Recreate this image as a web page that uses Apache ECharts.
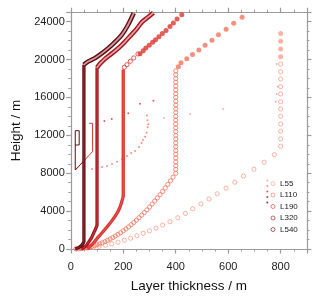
<!DOCTYPE html>
<html><head><meta charset="utf-8">
<script src="https://cdn.jsdelivr.net/npm/echarts@6/dist/echarts.min.js"></script>
<style>html,body{margin:0;padding:0;background:#fff}#c{width:320px;height:299px}</style>
</head><body><div id="c"></div>
<script>
const names = ['L55','L110','L190','L320','L540'];
const colors = ['#f9a08c','#f5735f','#dc3530','#a8141c','#6a0a10'];
const xTicks = [0,200,400,600,800];
const yTicks = [0,4000,8000,12000,16000,20000,24000];

// L55
const l55Circles = [[20,15],[40,45],[62,100],[85,175],[108,275],[132,400],[156,550],[180,720],[204,920],[228,1140],[252,1400],[276,1660],[300,1920],[325,2200],[350,2520],[378,2880],[408,3300],[437,3760],[465,4250],[496,4760],[527,5280],[558,5830],[592,6420],[625,7050],[658,7700],[698,8420],[737,9160],[776,9960],[800,10850],[800,11620],[800,12430],[800,13200],[800,14010],[800,14780],[800,15550],[800,16370],[800,17140],[800,17950],[800,18720],[800,19530]];
const l55Filled = [[800,20300],[800,21120],[800,21930],[800,22740]];
const l55Dots = [[785,19540],[789,17140],[785,16370],[781,15550],[581,14780],[455,14260],[355,13830]];

// L110
const l110Circles = [[20,10],[30,25],[40,53],[50,92],[60,141],[70,200],[80,270],[90,350],[100,440],[110,541],[120,652],[130,774],[140,906],[150,1049],[160,1201],[170,1365],[180,1538],[190,1722],[200,1917],[210,2122],[220,2337],[230,2563],[240,2799],[250,3045],[260,3302],[270,3570],[280,3847],[290,4135],[300,4434],[310,4743],[320,5062],[330,5392],[340,5732],[350,6082],[360,6443],[370,6815],[380,7196],[390,7588],[400,7991],[400,8400],[400,8800],[400,9200],[400,9600],[400,10000],[400,10400],[400,10800],[400,11200],[400,11600],[400,12000],[400,12400],[400,12800],[400,13200],[400,13600],[400,14000],[400,14400],[400,14800],[400,15200],[400,15600],[400,16000],[400,16400],[400,16800],[400,17200],[400,17600],[400,18000],[400,18400],[400,18800]];
const l110Filled = [[410,19230],[420,19660],[442,20080],[464,20540],[488,21000],[512,21510],[538,22040],[563,22630],[592,23200],[621,23830],[653,24470]];
const l110Dots = [[81,8450],[100,8550],[119,8660],[138,8760],[157,8980],[176,9220],[195,9500],[214,9820],[230,10140],[245,10350],[260,10770],[270,11190],[275,11510],[283,11860],[289,12280],[293,12850],[295,13170],[292,13600],[290,14100]];

// L190
const l190Dense = [[62,0],[85,600],[106,1300],[125,1900],[144,2530],[160,3100],[176,3770],[188,4450],[198,5350],[200,5600],[200,18950]];
const l190Circles = [[204,19190],[214,19460],[227,19820],[240,20170],[256,20590]];
const l190Filled = [[264,20620],[276,20940],[286,21230],[299,21510],[312,21830],[323,22100],[336,22420],[349,22740],[363,23060],[378,23480],[391,23870],[405,24290],[423,24740]];
const l190Dots = [[128,13520],[156,13730],[219,14330],[264,15340],[315,15660]];
const l190Thin = [[17,8340],[83,10280],[83,13270],[70,13270]];

// L320
const l320Dense = [[40,0],[50,150],[60,400],[70,800],[80,1250],[90,1850],[100,2550],[100,19150]];
const l320Upper = [[100,19150],[108,19450],[118,19750],[132,20120],[157,20650],[183,21250],[205,21850],[227,22500],[250,23200],[271,23950],[293,24450],[315,24950]];
const l320Dots = [];
const l320Thin = [[17,8340],[50,9300],[50,11800]];

// L540
const l540Dense = [[17,0],[30,150],[42,400],[48,650],[50,800],[50,19450]];
const l540Upper = [[50,19450],[57,19620],[68,19820],[93,20170],[118,20650],[144,21230],[170,21900],[195,22630],[218,23650],[240,24920]];
const l540Dots = [];
const l540Thin = [[17,8340],[17,12490],[32,12490],[32,10980],[17,10980]];

function mix(c, t) {
  const n = parseInt(c.slice(1), 16);
  const r = (n >> 16) & 255, g = (n >> 8) & 255, b = n & 255;
  const f = v => Math.round(v + (255 - v) * t);
  return 'rgb(' + f(r) + ',' + f(g) + ',' + f(b) + ')';
}

const groups = [
  {circles:l55Circles, filled:l55Filled, dots:l55Dots, dense:[], tubes:[], thin:[]},
  {circles:l110Circles, filled:l110Filled, dots:l110Dots, dense:[], tubes:[], thin:[]},
  {circles:l190Circles, filled:l190Filled, dots:l190Dots, dense:[l190Dense], tubes:[], thin:[l190Thin]},
  {circles:[], filled:[], dots:l320Dots, dense:[l320Dense], tubes:[l320Upper], thin:[l320Thin]},
  {circles:[], filled:[], dots:l540Dots, dense:[l540Dense], tubes:[l540Upper], thin:[l540Thin]}
];

const series = [];
groups.forEach((g, i) => {
  const c = colors[i], nm = names[i];
  series.push({type:'scatter', name:nm, data:g.circles, symbol:'circle', symbolSize:4.2,
    itemStyle:{color:'rgba(255,255,255,0)', borderColor:c, borderWidth:1}, z:2+i});
  g.thin.forEach(d => series.push({type:'line', name:nm, data:d, symbol:'none', showSymbol:false,
    lineStyle:{color:c, width:1}, z:2+i}));
  g.dense.forEach(d => {
    series.push({type:'line', name:nm, data:d, symbol:'none', showSymbol:false, lineStyle:{color:c, width:3.3}, smooth:0.2, z:2+i});
    series.push({type:'line', name:nm, data:d, symbol:'none', showSymbol:false, lineStyle:{color:mix(c,0.18), width:1}, smooth:0.2, z:2+i});
  });
  g.tubes.forEach(d => {
    series.push({type:'line', name:nm, data:d, symbol:'none', showSymbol:false, lineStyle:{color:c, width:4.6}, smooth:0.3, z:2+i});
    series.push({type:'line', name:nm, data:d, symbol:'none', showSymbol:false, lineStyle:{color:mix(c,0.6), width:1.8}, smooth:0.3, z:2+i});
  });
  series.push({type:'scatter', name:nm + ' filled', data:g.filled, symbol:'circle', symbolSize:5,
    itemStyle:{color:c}, z:2+i});
  series.push({type:'scatter', name:nm + ' dots', data:g.dots, symbol:'circle', symbolSize:2,
    itemStyle:{color:c}, z:2+i});
});

const axisCol = '#9b9b9b';
const lblFont = {color:'#222', fontFamily:'Liberation Sans, Arial, sans-serif', fontSize:11};
function xAx(pos, show) {
  return {type:'value', position:pos, min:0, max:900, interval:200,
    axisLine:{show:true, onZero:false, lineStyle:{color:axisCol, width:1.2}},
    axisTick:{show:true, inside:false, length:4.5, lineStyle:{color:axisCol, width:1.2}},
    minorTick:{show:true, splitNumber:4, length:2.5, lineStyle:{color:axisCol, width:1}},
    splitLine:{show:false}, minorSplitLine:{show:false},
    axisLabel:Object.assign({show:show, margin:12, formatter:v => xTicks.includes(v) ? String(v) : ''}, lblFont),
    name: show ? 'Layer thickness / m' : '', nameLocation:'middle', nameGap:30,
    nameTextStyle:{color:'#111', fontFamily:'Liberation Sans, Arial, sans-serif', fontSize:13.5}};
}
function yAx(pos, show) {
  return {type:'value', position:pos, min:0, max:25000, interval:4000,
    axisLine:{show:true, onZero:false, lineStyle:{color:axisCol, width:1.2}},
    axisTick:{show:true, inside:false, length:4.5, lineStyle:{color:axisCol, width:1.2}},
    minorTick:{show:true, splitNumber:4, length:2.5, lineStyle:{color:axisCol, width:1}},
    splitLine:{show:false}, minorSplitLine:{show:false},
    axisLabel:Object.assign({show:show, margin:6, formatter:v => yTicks.includes(v) ? String(v) : ''}, lblFont),
    name: show ? 'Height / m' : '', nameLocation:'middle', nameGap:48, nameRotate:90,
    nameTextStyle:{color:'#111', fontFamily:'Liberation Sans, Arial, sans-serif', fontSize:13.5}};
}

const chart = echarts.init(document.getElementById('c'));
chart.setOption({
  animation:false,
  grid:{left:70.8, right:13.1, top:12.2, bottom:50},
  xAxis:[xAx('bottom', true), xAx('top', false)],
  yAxis:[yAx('left', true), yAx('right', false)],
  legend:[
    {orient:'vertical', left:266.3, top:179.5, padding:0, itemGap:3.5, itemWidth:2, itemHeight:2,
     data:names.map(n => n + ' dots'), formatter:() => '', selectedMode:false,
     textStyle:{fontSize:8, lineHeight:8}},
    {orient:'vertical', left:270.6, top:179.5, padding:0, itemGap:3.5, itemWidth:4, itemHeight:4,
     data:names, selectedMode:false, itemStyle:{borderWidth:0.8},
     textStyle:{fontSize:8, lineHeight:8, color:'#222', fontFamily:'Liberation Sans, Arial, sans-serif', padding:[0,0,0,0]}}
  ],
  series:series
});
</script>
</body></html>
